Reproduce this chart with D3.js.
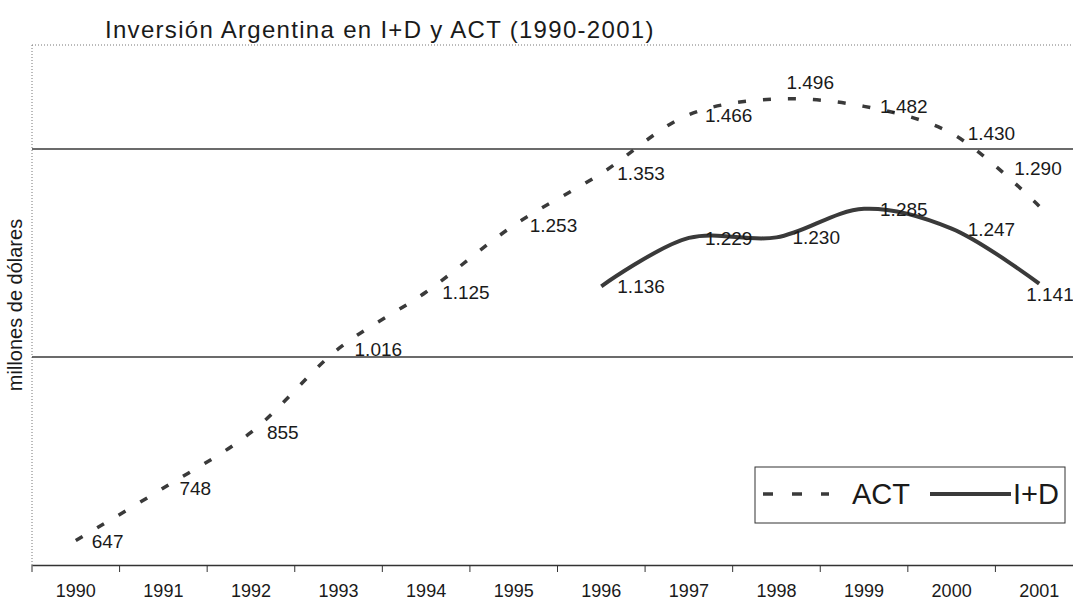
<!DOCTYPE html>
<html>
<head>
<meta charset="utf-8">
<script src="https://cdnjs.cloudflare.com/ajax/libs/d3/7.8.5/d3.min.js"></script>
<style>
  body { margin: 0; background: #fff; }
  svg text { font-family: "Liberation Sans", Arial, sans-serif; fill: #1a1a1a; }
</style>
</head>
<body>
<div id="chart"></div>
<script>
// data (millones de dolares)
var years = ["1990","1991","1992","1993","1994","1995","1996","1997","1998","1999","2000","2001"];
var act = [647, 748, 855, 1016, 1125, 1253, 1353, 1466, 1496, 1482, 1430, 1290];
var idYears = ["1996","1997","1998","1999","2000","2001"];
var idValues = [1136, 1229, 1230, 1285, 1247, 1141];
var yTicks = [600, 1000, 1400];

// labels that were moved by hand in the original
var actNudge = { "1998": [-6, -17], "2001": [-41, -38] };
var idNudge = { "2001": [-29, 10] };

var width = 1073,
    height = 601,
    plotLeft = 32, plotRight = 1083, plotTop = 45, plotBottom = 565;

var svg = d3.select("#chart").append("svg")
    .attr("width", width)
    .attr("height", height);

var x = d3.scaleBand()
    .domain(years)
    .range([plotLeft, plotRight]);

var y = d3.scaleLinear()
    .domain([600, 1600])
    .range([plotBottom, plotTop]);

var fmt = d3.formatLocale({ decimal: ",", thousands: ".", grouping: [3], currency: ["$", ""] }).format(",d");

// title
svg.append("text")
    .attr("x", 105)
    .attr("y", 38)
    .style("font-size", "24px")
    .style("letter-spacing", "1.3px")
    .text("Inversión Argentina en I+D y ACT (1990-2001)");

// y title
svg.append("text")
    .attr("transform", "translate(22," + ((plotTop + plotBottom) / 2) + ") rotate(-90)")
    .attr("text-anchor", "middle")
    .style("font-size", "20px")
    .text("millones de dólares");

// dotted plot border (top and left)
svg.append("line")
    .attr("x1", plotLeft).attr("x2", plotRight)
    .attr("y1", plotTop).attr("y2", plotTop)
    .attr("stroke", "#777").attr("stroke-dasharray", "1,2");
svg.append("line")
    .attr("x1", plotLeft).attr("x2", plotLeft)
    .attr("y1", plotTop).attr("y2", plotBottom)
    .attr("stroke", "#777").attr("stroke-dasharray", "1,2");

// gridlines
svg.append("g")
  .selectAll("line")
    .data(yTicks.slice(1))
  .enter().append("line")
    .attr("x1", plotLeft).attr("x2", plotRight)
    .attr("y1", function(d) { return y(d); })
    .attr("y2", function(d) { return y(d); })
    .attr("stroke", "#3a3a3a")
    .attr("stroke-width", 1.4);

// x axis
var xAxis = svg.append("g")
    .attr("transform", "translate(0," + plotBottom + ")")
    .call(d3.axisBottom(x).tickSize(0));
xAxis.select(".domain").attr("stroke", "#333").attr("stroke-width", 1.3);
xAxis.selectAll(".tick text")
    .attr("y", 19)
    .style("font-size", "18px")
    .style("font-family", "Liberation Sans, Arial, sans-serif")
    .attr("fill", "#1a1a1a");

// ticks between categories
xAxis.selectAll(".sep")
    .data(years)
  .enter().append("line")
    .attr("class", "sep")
    .attr("x1", function(d) { return x(d); })
    .attr("x2", function(d) { return x(d); })
    .attr("y1", 0).attr("y2", 7)
    .attr("stroke", "#333");

var cx = function(yr) { return x(yr) + x.bandwidth() / 2; };

var line = d3.line()
    .curve(d3.curveCatmullRom.alpha(0.5))
    .x(function(d) { return cx(d[0]); })
    .y(function(d) { return y(d[1]); });

var actPts = years.map(function(yr, i) { return [yr, act[i]]; });
var idPts = idYears.map(function(yr, i) { return [yr, idValues[i]]; });

// I+D solid
svg.append("path")
    .datum(idPts)
    .attr("d", line)
    .attr("fill", "none")
    .attr("stroke", "#3a3a3a")
    .attr("stroke-width", 4);

// ACT dashed
svg.append("path")
    .datum(actPts)
    .attr("d", line)
    .attr("fill", "none")
    .attr("stroke", "#3a3a3a")
    .attr("stroke-width", 3.5)
    .attr("stroke-dasharray", "8,17");

// data labels
function addLabels(pts, nudge) {
  svg.append("g")
    .selectAll("text")
      .data(pts)
    .enter().append("text")
      .attr("x", function(d) { return cx(d[0]) + 16 + (nudge[d[0]] ? nudge[d[0]][0] : 0); })
      .attr("y", function(d) { return y(d[1]) + 7 + (nudge[d[0]] ? nudge[d[0]][1] : 0); })
      .style("font-size", "19px")
      .text(function(d) { return fmt(d[1]); });
}
addLabels(actPts, actNudge);
addLabels(idPts, idNudge);

// legend
var lg = svg.append("g").attr("transform", "translate(755,467)");
lg.append("rect")
    .attr("width", 310).attr("height", 56)
    .attr("fill", "#fff")
    .attr("stroke", "#333");
lg.append("line")
    .attr("x1", 8).attr("x2", 74)
    .attr("y1", 27).attr("y2", 27)
    .attr("stroke", "#3a3a3a").attr("stroke-width", 3.5)
    .attr("stroke-dasharray", "10,19");
lg.append("text")
    .attr("x", 97).attr("y", 37)
    .style("font-size", "29px")
    .text("ACT");
lg.append("line")
    .attr("x1", 175).attr("x2", 256)
    .attr("y1", 27).attr("y2", 27)
    .attr("stroke", "#3a3a3a").attr("stroke-width", 4);
lg.append("text")
    .attr("x", 258).attr("y", 37)
    .style("font-size", "29px")
    .text("I+D");
</script>
</body>
</html>
